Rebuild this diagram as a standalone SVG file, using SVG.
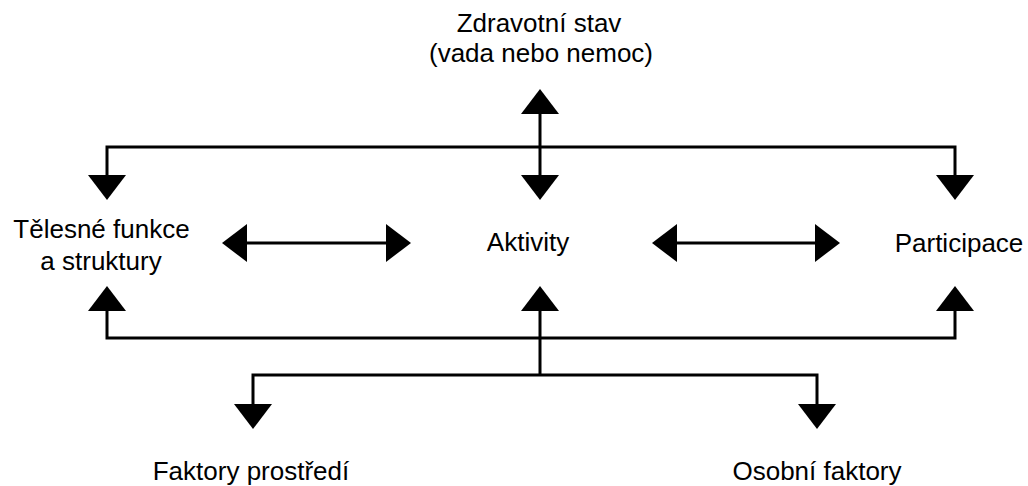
<svg xmlns="http://www.w3.org/2000/svg" width="1028" height="486" viewBox="0 0 1028 486">
<defs>
<marker id="ah" viewBox="0 0 25 38" refX="0" refY="19" markerWidth="25" markerHeight="38" markerUnits="userSpaceOnUse" orient="auto-start-reverse">
<path d="M0,0 L25,19 L0,38 Z" fill="#000"/>
</marker>
<style>
.lbl{font-family:"Liberation Sans",Arial,sans-serif;font-size:26px;fill:#000;text-anchor:middle}
.con{fill:none;stroke:#000;stroke-width:3;marker-start:url(#ah);marker-end:url(#ah)}
.con1{fill:none;stroke:#000;stroke-width:3;marker-start:url(#ah)}
</style>
</defs>
<rect width="1028" height="486" fill="#fff"/>
<g id="connectors">
<path class="con" d="M540,114 V175"/>
<path class="con" d="M107,175 V147 H955 V175"/>
<path class="con" d="M107,311 V338 H955 V311"/>
<path class="con1" d="M540,311 V375"/>
<path class="con" d="M253,404 V375 H817 V404"/>
<path class="con" d="M247,243 H386"/>
<path class="con" d="M677,243 H815"/>
</g>
<g id="zdravotni-stav">
<text class="lbl" x="539" y="32">Zdravotní stav</text>
<text class="lbl" x="541" y="62">(vada nebo nemoc)</text>
</g>
<g id="telesne-funkce">
<text class="lbl" x="101.5" y="238">Tělesné funkce</text>
<text class="lbl" x="101" y="270">a struktury</text>
</g>
<g id="aktivity">
<text class="lbl" x="528" y="251">Aktivity</text>
</g>
<g id="participace">
<text class="lbl" x="959" y="252">Participace</text>
</g>
<g id="faktory-prostredi">
<text class="lbl" x="251" y="480">Faktory prostředí</text>
</g>
<g id="osobni-faktory">
<text class="lbl" x="817" y="480">Osobní faktory</text>
</g>
</svg>
